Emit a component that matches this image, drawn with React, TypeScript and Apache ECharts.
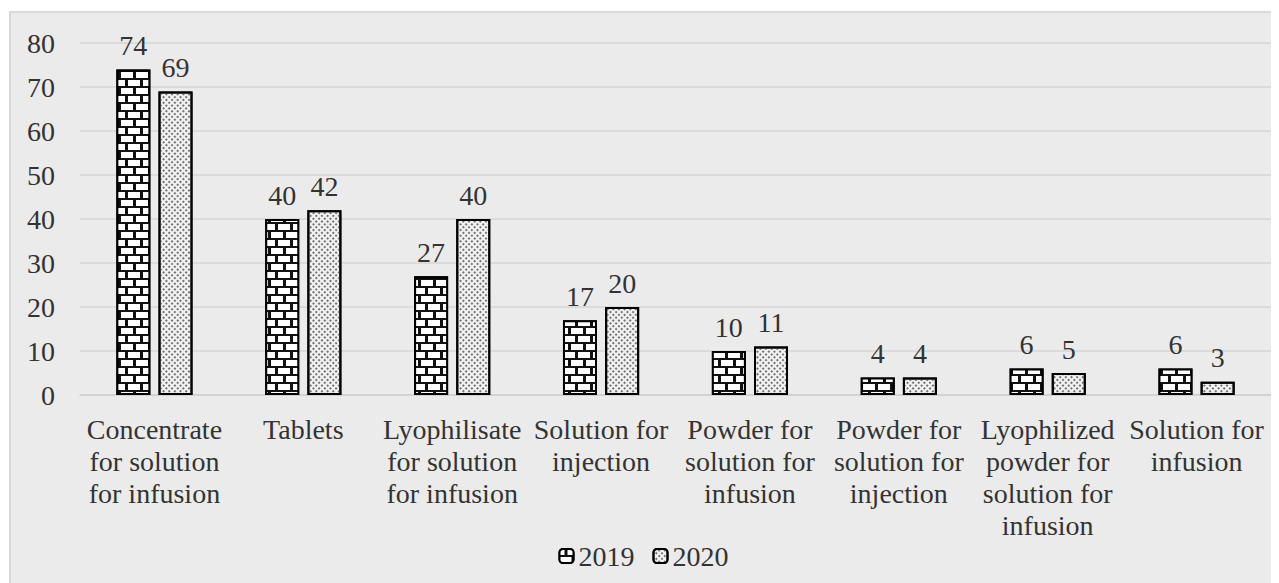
import React, { useEffect, useRef } from "react";
import * as echarts from "echarts";

const categories: string[] = [
  "Concentrate\nfor solution\nfor infusion",
  "Tablets",
  "Lyophilisate\nfor solution\nfor infusion",
  "Solution for\ninjection",
  "Powder for\nsolution for\ninfusion",
  "Powder for\nsolution for\ninjection",
  "Lyophilized\npowder for\nsolution for\ninfusion",
  "Solution for\ninfusion",
];
const values2019: number[] = [74, 40, 27, 17, 10, 4, 6, 6];
const values2020: number[] = [69, 42, 40, 20, 11, 4, 5, 3];
const seriesNames: string[] = ["2019", "2020"];

const FONT = "Liberation Serif";
const TEXT = "#333333";
const FS = 28;

export default function App() {
  const ref = useRef<HTMLDivElement>(null);

  useEffect(() => {
    if (!ref.current) return;
    const chart = echarts.init(ref.current, undefined, { renderer: "svg" });
    chart.setOption({
      animation: false,
      aria: { enabled: true, decal: { show: true } },
      graphic: [
        {
          type: "rect",
          z: -9,
          silent: true,
          shape: { x: 2, y: 4, width: 1280, height: 580 },
          style: { fill: "#ebebeb", stroke: "#d9d9d9", lineWidth: 2 },
        },
      ],
      grid: { left: 72, right: 8, top: 35, bottom: 188 },
      legend: {
        bottom: 8,
        left: "center",
        itemWidth: 14,
        itemHeight: 14,
        itemGap: 18,
        textStyle: { fontFamily: FONT, fontSize: FS, color: TEXT },
        data: seriesNames,
      },
      xAxis: {
        type: "category",
        data: categories,
        axisTick: { show: false },
        axisLine: { lineStyle: { color: "#cfcfcf", width: 1.5 } },
        axisLabel: {
          interval: 0,
          margin: 18,
          fontFamily: FONT,
          fontSize: FS,
          lineHeight: 32,
          color: TEXT,
        },
      },
      yAxis: {
        type: "value",
        min: 0,
        max: 80,
        interval: 10,
        axisLine: { show: false },
        axisTick: { show: false },
        splitLine: { lineStyle: { color: "#d6d6d6", width: 1.5 } },
        axisLabel: { margin: 25, fontFamily: FONT, fontSize: FS, color: TEXT },
      },
      series: [
        {
          name: seriesNames[0],
          type: "bar",
          data: values2019,
          barWidth: 34,
          barGap: "24%",
          itemStyle: {
            color: "#111111",
            borderColor: "#000000",
            borderWidth: 2,
            decal: {
              symbol: "rect",
              symbolSize: 1,
              symbolKeepAspect: false,
              color: "#ffffff",
              rotation: 0,
              dashArrayX: [[12, 3], [5, 3, 7, 0]],
              dashArrayY: [6, 2],
            },
          },
          label: { show: true, position: "top", distance: 10, fontFamily: FONT, fontSize: FS, color: TEXT },
        },
        {
          name: seriesNames[1],
          type: "bar",
          data: values2020,
          barWidth: 34,
          itemStyle: {
            color: "#f2f2f2",
            borderColor: "#000000",
            borderWidth: 2,
            decal: {
              symbol: "rect",
              symbolSize: 1,
              symbolKeepAspect: false,
              color: "#757575",
              dashArrayX: [2, 2],
              dashArrayY: [2, 2],
              rotation: Math.PI / 4,
            },
          },
          label: { show: true, position: "top", distance: 10, fontFamily: FONT, fontSize: FS, color: TEXT },
        },
      ],
    });
    return () => chart.dispose();
  }, []);

  return <div ref={ref} style={{ width: 1271, height: 575 }} />;
}
